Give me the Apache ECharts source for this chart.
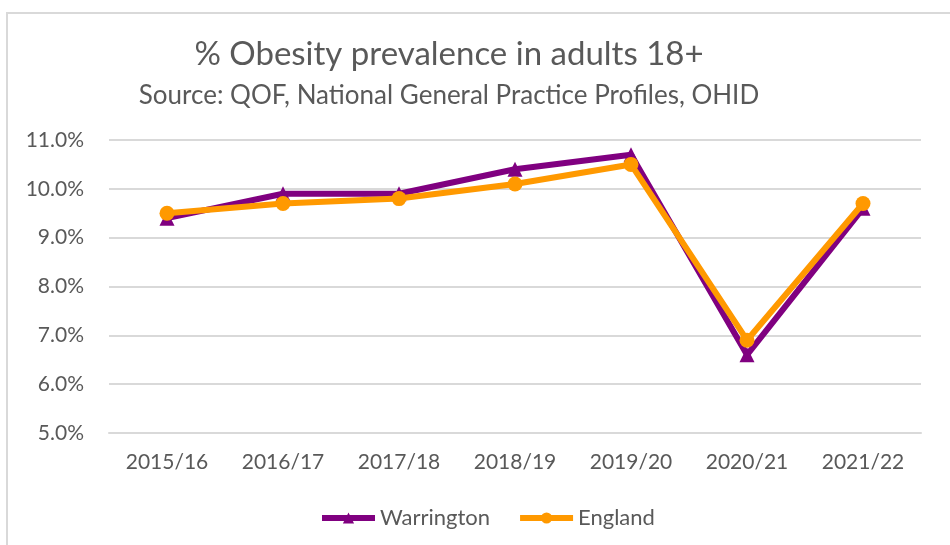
<!DOCTYPE html>
<html>
<head>
<meta charset="utf-8">
<script src="https://cdn.jsdelivr.net/npm/echarts@6/dist/echarts.min.js"></script>
<style>
  html, body { margin: 0; padding: 0; background: #fff; }
  #main { width: 950px; height: 545px; }
</style>
</head>
<body>
<div id="main"></div>
<script>
var years = ["2015/16", "2016/17", "2017/18", "2018/19", "2019/20", "2020/21", "2021/22"];
var warrington = [9.4, 9.9, 9.9, 10.4, 10.7, 6.6, 9.6];
var england = [9.5, 9.7, 9.8, 10.1, 10.5, 6.9, 9.7];

var textGrey = "#595959";
var font = "Lato";

var myChart = echarts.init(document.getElementById("main"));
var option = {
  backgroundColor: "#fff",
  textStyle: { fontFamily: font },
  graphic: [
    {
      type: "rect",
      shape: { x: 7, y: 13, width: 960, height: 560 },
      style: { fill: "none", stroke: "#d9d9d9", lineWidth: 2 },
      silent: true
    }
  ],
  title: [
    {
      text: "% Obesity prevalence in adults 18+",
      left: 444,
      top: 33,
      textAlign: "center",
      textStyle: { fontFamily: font, fontSize: 33, fontWeight: "normal", color: textGrey }
    },
    {
      text: "Source: QOF, National General Practice Profiles, OHID",
      left: 444,
      top: 78,
      textAlign: "center",
      textStyle: { fontFamily: font, fontSize: 26, fontWeight: "normal", color: textGrey }
    }
  ],
  legend: {
    left: 314,
    top: 502,
    itemWidth: 53,
    itemHeight: 14,
    itemGap: 27,
    lineStyle: { width: 6 },
    textStyle: { fontFamily: font, fontSize: 22, color: textGrey, padding: [0, 0, 0, 0] },
    data: ["Warrington", "England"]
  },
  grid: {
    left: 109,
    right: 29,
    top: 140,
    bottom: 112
  },
  xAxis: {
    type: "category",
    data: years,
    boundaryGap: true,
    axisLine: { lineStyle: { color: "#d9d9d9", width: 2 } },
    axisTick: { show: false },
    axisLabel: { fontFamily: font, fontSize: 21, color: textGrey, margin: 19 }
  },
  yAxis: {
    type: "value",
    min: 5,
    max: 11,
    interval: 1,
    axisLine: { show: false },
    axisTick: { show: false },
    splitLine: { lineStyle: { color: "#d9d9d9", width: 2 } },
    axisLabel: {
      fontFamily: font,
      fontSize: 21,
      color: textGrey,
      margin: 25,
      formatter: function (v) { return v.toFixed(1) + "%"; }
    }
  },
  series: [
    {
      name: "Warrington",
      type: "line",
      data: warrington,
      symbol: "triangle",
      symbolSize: 15,
      showAllSymbol: true,
      lineStyle: { color: "#800080", width: 6 },
      itemStyle: { color: "#800080" },
      z: 2
    },
    {
      name: "England",
      type: "line",
      data: england,
      symbol: "circle",
      symbolSize: 15,
      lineStyle: { color: "#ff9900", width: 6 },
      itemStyle: { color: "#ff9900" },
      z: 3
    }
  ]
};
myChart.setOption(option);
</script>
</body>
</html>
